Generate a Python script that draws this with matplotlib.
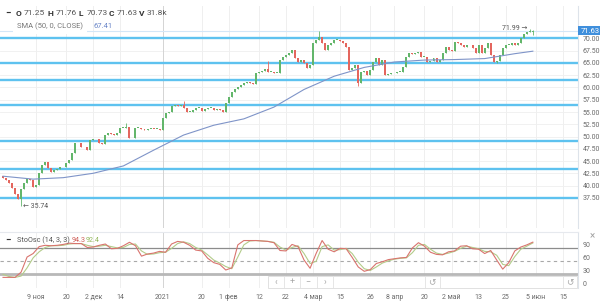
import matplotlib.pyplot as plt
import numpy as np
from matplotlib.patches import Rectangle

plt.rcParams['font.family'] = ['Roboto', 'DejaVu Sans']

# daily closes, late Oct 2020 .. early Jun 2021
closes = [41.6, 41.2, 40.6, 39.4, 38.2, 37.2, 39.3, 40.5, 41.3, 41.2,
          39.7, 40.1, 42.6, 44.2, 44.8, 43.6, 42.8, 43.2, 43.4, 43.8,
          43.7, 44.6, 45.2, 46.6, 48.7, 48.6, 47.9, 47.8, 47.2, 49.3,
          49.5, 49.4, 48.7, 48.4, 50.3, 50.7, 50.6, 50.4, 50.7, 51.7,
          51.8, 51.9, 49.7, 49.6, 51.7, 51.7, 51.6, 51.4, 51.6, 51.6,
          51.5, 51.5, 51.3, 53.8, 54.8, 55.0, 56.2, 56.4, 56.2, 56.4,
          55.8, 55.0, 55.0, 55.4, 55.8, 55.8, 55.3, 55.6, 55.8, 55.8,
          55.4, 55.7, 55.4, 55.1, 56.8, 58.1, 59.1, 59.7, 60.1, 60.5,
          60.9, 61.2, 60.9, 60.8, 62.9, 63.2, 63.4, 63.7, 63.2, 63.2,
          63.0, 63.0, 65.6, 66.3, 66.6, 67.0, 67.6, 66.0, 65.3, 65.6,
          64.9, 63.9, 64.6, 69.0, 69.7, 70.4, 69.1, 67.6, 68.7, 69.0,
          69.7, 69.7, 69.5, 69.0, 68.3, 63.6, 63.9, 64.6, 60.9, 63.2,
          63.4, 62.6, 63.5, 65.3, 66.0, 64.6, 65.6, 62.6, 62.8, 62.9,
          63.0, 63.2, 63.2, 64.2, 66.3, 67.0, 66.9, 67.0, 67.2, 66.3,
          66.3, 65.3, 65.5, 66.0, 65.3, 65.6, 67.0, 68.3, 67.7, 67.5,
          69.3, 69.0, 68.7, 68.3, 68.6, 68.6, 68.0, 67.0, 68.6, 67.0,
          68.0, 69.0, 66.6, 65.3, 65.5, 66.6, 68.0, 68.7, 68.7, 69.0,
          68.7, 69.0, 70.0, 71.0, 71.4, 71.5, 71.63]
first_open = 41.9
last_ohlc = (71.25, 71.76, 70.73, 71.63)
volume_label = '31.8k'
wick_lows = {6: 35.74, 118: 60.4, 164: 64.9}
wick_highs = {41: 52.7, 60: 57.3, 88: 65.5, 105: 71.5, 175: 71.99}

# SMA(50) read every 10th bar, plus the last bar
sma_50 = [41.9, 41.3, 41.6, 42.5, 44.0, 47.2, 50.3, 52.3, 53.6, 56.0,
          59.6, 62.3, 64.1, 65.2, 65.6, 65.7, 65.9, 66.9, 67.41]

level_lines = [70.05, 65.0, 61.5, 56.45, 49.1, 43.4, 37.5]

# stochastic (14, 3, 3), every 2nd bar
stoch_k = [13, 13, 13, 25, 60, 68, 84, 87, 86, 87,
           89, 92, 91, 91, 82, 83, 87, 90, 79, 80,
           86, 94, 86, 62, 67, 69, 73, 71, 90, 96,
           94, 87, 76, 74, 57, 47, 43, 30, 35, 88,
           98, 98, 98, 97, 96, 93, 75, 74, 89, 84,
           53, 34, 68, 98, 78, 72, 80, 79, 59, 37,
           27, 31, 45, 49, 54, 56, 58, 59, 81, 93,
           85, 71, 66, 65, 72, 74, 85, 86, 79, 78,
           68, 75, 53, 32, 47, 74, 83, 88, 94.3]
stoch_d = [20, 15, 13, 16, 35, 58, 72, 82, 86, 86,
           87, 90, 91, 91, 87, 84, 85, 87, 84, 81,
           82, 89, 90, 74, 66, 67, 70, 71, 80, 91,
           95, 91, 82, 76, 65, 53, 46, 38, 33, 60,
           88, 97, 98, 97, 96, 94, 83, 76, 82, 86,
           68, 45, 50, 84, 88, 76, 77, 80, 68, 48,
           33, 29, 37, 46, 51, 55, 57, 58, 70, 87,
           89, 78, 69, 66, 69, 73, 80, 85, 82, 79,
           73, 72, 64, 43, 40, 61, 78, 85, 92.4]

tick_bars = [11, 21, 30, 39, 53, 66, 75, 85, 94, 103, 112, 122, 130, 140,
             149, 158, 167, 177, 186]
tick_labels = ['9 ноя', '20', '2 дек', '14', '2021', '20', '1 фев', '12', '22',
               '4 мар', '15', '26', '8 апр', '20', '2 май', '13', '25', '5 июн', '15']

closes = np.array(closes)
n = len(closes)
x = np.arange(n)
opens = np.r_[first_open, closes[:-1]]
opens[-1] = last_ohlc[0]
highs = np.maximum(opens, closes)
lows = np.minimum(opens, closes)
highs[-1], lows[-1] = last_ohlc[1], last_ohlc[2]
for i, v in wick_highs.items():
    highs[i] = v
for i, v in wick_lows.items():
    lows[i] = v

W, H = 600, 305
fig = plt.figure(figsize=(W / 100, H / 100), dpi=100)
ax = fig.add_axes([0, 1 - 228 / H, 578 / W, 222 / H])
sub = fig.add_axes([0, 1 - 288 / H, 578 / W, 56 / H])

xlim = (-1.0, 191.0)
grid_c = '#efefef'
lab_c = '#6b6b6b'

# ---- price panel
ax.set_xlim(*xlim)
ax.set_ylim(31.33, 76.63)
yt = np.arange(37.5, 70.01, 2.5)
for v in yt:
    ax.axhline(v, color=grid_c, lw=0.6, zorder=0)
for b in tick_bars:
    ax.axvline(b, color='#d4d4d4' if b == 53 else grid_c, lw=0.7, zorder=0)

for v in level_lines:
    ax.axhline(v, color='#5ec2ef', lw=1.7, zorder=2)
ax.axhline(last_ohlc[3], color='#d3e6f7', lw=0.8, zorder=1)

up = closes >= opens
colors = np.where(up, '#63b66b', '#e4665e')
ax.vlines(x, lows, highs, colors=colors, lw=0.6, zorder=3)
ax.bar(x, np.maximum(np.abs(closes - opens), 0.15), bottom=np.minimum(opens, closes),
       width=0.66, color=colors, zorder=4)

sma_x = np.r_[np.arange(0, n, 10), n - 1]
ax.plot(sma_x, sma_50, color='#7f94c8', lw=0.8, zorder=5)

ax.yaxis.tick_right()
ax.set_yticks(yt)
ax.set_yticklabels([f'{v:.2f}' for v in yt])
ax.tick_params(axis='y', length=0, pad=3.5, labelsize=5, labelcolor=lab_c)
ax.set_xticks([])
for s in ['top', 'left', 'bottom']:
    ax.spines[s].set_visible(False)
ax.spines['right'].set_color('#dde3ea')

ax.text(1.004, last_ohlc[3], f'{last_ohlc[3]:.2f}', transform=ax.get_yaxis_transform(),
        ha='left', va='center', fontsize=5.5, color='white', clip_on=False,
        bbox=dict(boxstyle='square,pad=0.25', fc='#3f8fdc', ec='none'))

ax.text(lows.argmin() + 0.8, lows.min(), '← 35.74', fontsize=5, color='#555555',
        ha='left', va='center', zorder=6)
ax.text(175 - 0.8, 71.99, '71.99 →', fontsize=5, color='#555555',
        ha='right', va='center', zorder=6)


def px_text(px, py, s, **kw):
    fig.text(px / W, 1 - py / H, s, va='center', **kw)


# header legend
px_text(5, 13, '−', fontsize=7, color='#333333', fontweight='bold')
parts = [('O', 16), ('H', 48), ('L', 79), ('C', 109), ('V', 139)]
vals = [f'{last_ohlc[0]:.2f}', f'{last_ohlc[1]:.2f}', f'{last_ohlc[2]:.2f}',
        f'{last_ohlc[3]:.2f}', volume_label]
for (k, px), v in zip(parts, vals):
    px_text(px, 13, k, fontsize=6, color='#333333', fontweight='bold')
    px_text(px + 7.5, 13, v, fontsize=6, color='#555555')
px_text(17, 26, 'SMA (50, 0, CLOSE)', fontsize=5.5, color='#777777',
        bbox=dict(boxstyle='square,pad=0.5', fc='white', ec='none'))
px_text(93, 26, f'{sma_50[-1]:.2f}', fontsize=5.5, color='#6a86c8')

# ---- stochastic panel
sub.set_xlim(*xlim)
sub.set_ylim(-11.5, 117.7)
for b in tick_bars:
    sub.axvline(b, color='#d4d4d4' if b == 53 else grid_c, lw=0.7, zorder=0)
sub.axhline(80, color='#8c8c8c', lw=0.9, zorder=1)
sub.axhline(50, color='#a8a8a8', lw=0.8, ls=(0, (3, 3)), zorder=1)
sub.axhline(20, color='#b8b8b8', lw=2.0, zorder=1)
sx = np.arange(0, n, 2)
sub.plot(sx, stoch_d, color='#b3cc8a', lw=0.8, zorder=2)
sub.plot(sx, stoch_k, color='#d9746e', lw=0.8, zorder=3)

sub.yaxis.tick_right()
sub.set_yticks([0, 30, 60, 90])
sub.tick_params(axis='y', length=0, pad=3.5, labelsize=5, labelcolor=lab_c)
sub.set_xticks(tick_bars)
sub.set_xticklabels(tick_labels)
sub.tick_params(axis='x', length=0, pad=4, labelsize=5, labelcolor=lab_c)
for s in ['left', 'bottom']:
    sub.spines[s].set_visible(False)
sub.spines['right'].set_color('#dde3ea')
sub.spines['top'].set_color('#e6e9ee')

px_text(5, 240, '−', fontsize=7, color='#333333', fontweight='bold')
px_text(17, 240, 'StoOsc (14, 3, 3)', fontsize=5.2, color='#555555')
px_text(72, 240, f'{stoch_k[-1]:.1f}', fontsize=5.2, color='#d0605a')
px_text(86, 240, f'{stoch_d[-1]:.1f}', fontsize=5.2, color='#93b85c')
px_text(590, 236, '×', fontsize=7, color='#a0a0a0')

# navigation bar overlay
fig.patches.append(Rectangle((268 / W, 1 - 288 / H), 309 / W, 12 / H, transform=fig.transFigure,
                             fc='white', ec='#dcdcdc', lw=0.6, zorder=5))
for sep in [284, 300, 317, 333, 425, 440, 563]:
    fig.lines.append(plt.Line2D([sep / W, sep / W], [1 - 288 / H, 1 - 276 / H],
                                transform=fig.transFigure, color='#e2e2e2', lw=0.6, zorder=6))
for px, g in [(276, '‹'), (292, '+'), (308, '−'), (325, '›'), (432, '↺'), (570, '↺')]:
    px_text(px, 282, g, fontsize=6.5, color='#a8a8a8', ha='center', zorder=7)

fig.savefig('out.png', dpi=100, facecolor='white')
